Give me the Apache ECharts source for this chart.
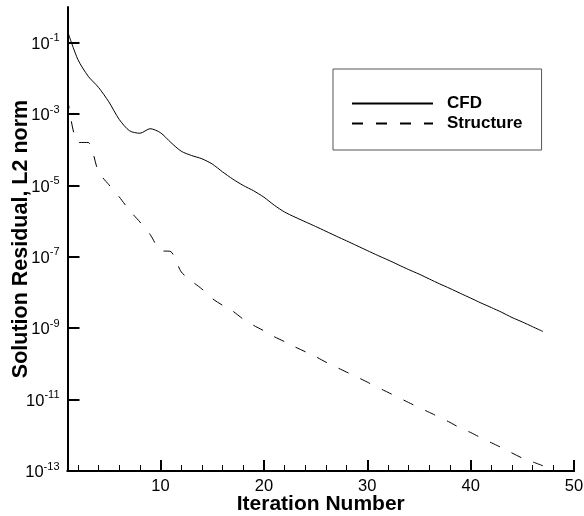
<!DOCTYPE html>
<html>
<head>
<meta charset="utf-8">
<script src="https://cdn.jsdelivr.net/npm/echarts@6/dist/echarts.min.js"></script>
<style>html,body{margin:0;padding:0;background:#fff;}#c{width:584px;height:516px;}</style>
</head>
<body>
<div id="c"></div>
<script>
const iterations = [1,2,3,4,5,6,7,8,9,10,11,12,13,14,15,16,17,18,19,20,21,22,23,24,25,26,27,28,29,30,31,32,33,34,35,36,37,38,39,40,41,42,43,44,45,46,47];
const cfdResidual = [2.1e-1,3.4e-2,1.15e-2,5.6e-3,2.2e-3,7.1e-4,3.4e-4,2.9e-4,3.9e-4,3.0e-4,1.6e-4,9.1e-5,6.9e-5,5.6e-5,4.0e-5,2.4e-5,1.5e-5,1.0e-5,7.1e-6,4.7e-6,2.8e-6,1.8e-6,1.3e-6,9.6e-7,7.1e-7,5.2e-7,3.8e-7,2.8e-7,2.05e-7,1.5e-7,1.1e-7,8.2e-8,6.0e-8,4.4e-8,3.3e-8,2.4e-8,1.75e-8,1.3e-8,9.5e-9,7.0e-9,5.1e-9,3.8e-9,2.8e-9,2.0e-9,1.5e-9,1.1e-9,8.1e-10];
const structureResidual = [2.9e-3,1.6e-4,1.6e-4,2.4e-5,1.05e-5,4.8e-6,2.0e-6,9.5e-7,4.2e-7,1.5e-7,1.4e-7,3.8e-8,2.1e-8,1.26e-8,6.8e-9,4.4e-9,3.0e-9,1.8e-9,1.2e-9,8.5e-10,5.8e-10,4.2e-10,3.0e-10,2.2e-10,1.6e-10,1.12e-10,8.1e-11,5.9e-11,4.3e-11,3.1e-11,2.2e-11,1.6e-11,1.15e-11,8.3e-12,6.0e-12,4.4e-12,3.2e-12,2.3e-12,1.6e-12,1.2e-12,8.5e-13,6.2e-13,4.5e-13,3.2e-13,2.3e-13,1.8e-13,1.4e-13];
const seriesNames = ['CFD', 'Structure'];
const xMajorTicks = [10,20,30,40,50];
const xMinorTicks = [2,4,6,8,12,14,16,18,22,24,26,28,32,34,36,38,42,44,46,48];
const yRange = [1e-13, 1];
const yTickTop = 1e-1;
const xTitle = 'Iteration Number';
const yTitle = 'Solution Residual, L2 norm';

const FONT = 'Liberation Sans, Arial, Helvetica, sans-serif';
const W = 584, H = 516;
const G = { left: 67.5, right: 10, top: 7, bottom: 45 };
const plotH = H - G.top - G.bottom;
const decadePx = plotH / Math.log10(yRange[1] / yRange[0]);
const tickGridTop = G.top + decadePx * Math.log10(yRange[1] / yTickTop);
const pair = (xs, ys) => xs.map((x, i) => [x, ys[i]]);

const chart = echarts.init(document.getElementById('c'));
chart.setOption({
  animation: false,
  backgroundColor: '#fff',
  grid: [
    { left: G.left, right: G.right, top: G.top, bottom: G.bottom, outerBoundsMode: 'none' },
    { left: G.left, right: G.right, top: tickGridTop, bottom: G.bottom, outerBoundsMode: 'none' }
  ],
  legend: {
    orient: 'vertical',
    left: 333, top: 69,
    data: seriesNames,
    itemWidth: 81, itemHeight: 14, itemGap: 3,
    padding: [26, 19, 18, 18],
    borderColor: '#555', borderWidth: 1,
    itemStyle: { opacity: 0 },
    textStyle: { fontFamily: FONT, fontSize: 17, fontWeight: 'bold', color: '#000', padding: [0,0,0,9] }
  },
  xAxis: [{
    gridIndex: 0, type: 'value', min: 1, max: 50,
    name: xTitle, nameLocation: 'middle', nameGap: 23, nameMoveOverlap: false,
    nameTextStyle: { fontFamily: FONT, fontSize: 21, fontWeight: 'bold', color: '#000' },
    axisLine: { show: true, onZero: false, lineStyle: { color: '#000', width: 2 } },
    axisTick: { show: true, inside: true, length: 11, lineStyle: { color: '#000', width: 2 }, customValues: xMajorTicks },
    axisLabel: { fontFamily: FONT, fontSize: 16.5, color: '#000', margin: 7, customValues: xMajorTicks },
    splitLine: { show: false }
  }, {
    gridIndex: 0, type: 'value', min: 1, max: 50, position: 'bottom',
    axisLine: { show: true, onZero: false, lineStyle: { color: '#000', width: 2 } },
    axisTick: { show: true, inside: true, length: 6, lineStyle: { color: '#000', width: 1 }, customValues: xMinorTicks },
    axisLabel: { show: false },
    splitLine: { show: false }
  }, {
    gridIndex: 1, type: 'value', min: 1, max: 50,
    axisLine: { show: false, onZero: false }, axisTick: { show: false }, axisLabel: { show: false }, splitLine: { show: false }
  }],
  yAxis: [{
    gridIndex: 0, type: 'log', logBase: 10, min: yRange[0], max: yRange[1], interval: 2,
    name: yTitle, nameLocation: 'middle', nameGap: 35.5, nameRotate: 90, nameMoveOverlap: false,
    nameTextStyle: { fontFamily: FONT, fontSize: 21.5, fontWeight: 'bold', color: '#000' },
    axisLine: { show: true, onZero: false, lineStyle: { color: '#000', width: 2 } },
    axisTick: { show: false },
    axisLabel: {
      margin: 8,
      formatter: v => {
        const e = Math.round(Math.log10(v));
        return Math.abs(e) % 2 === 1 ? '{b|10}{s|' + e + '}' : '';
      },
      rich: {
        b: { fontFamily: FONT, fontSize: 16.5, color: '#000', lineHeight: 20, verticalAlign: 'bottom' },
        s: { fontFamily: FONT, fontSize: 11, color: '#000', lineHeight: 10, verticalAlign: 'top' }
      }
    },
    splitLine: { show: false }
  }, {
    gridIndex: 1, type: 'log', logBase: 10, min: yRange[0], max: yTickTop, interval: 2, position: 'left',
    axisLine: { show: false, onZero: false },
    axisTick: { show: true, inside: true, length: 12, lineStyle: { color: '#000', width: 2 } },
    axisLabel: { show: false },
    splitLine: { show: false }
  }],
  series: [{
    name: seriesNames[0], type: 'line', xAxisIndex: 0, yAxisIndex: 0, data: pair(iterations, cfdResidual),
    symbol: 'none', smooth: 0.25, lineStyle: { color: '#000', width: 1, type: 'solid' }, itemStyle: { color: '#000' }
  }, {
    name: seriesNames[1], type: 'line', xAxisIndex: 0, yAxisIndex: 0, data: pair(iterations, structureResidual),
    symbol: 'none', smooth: 0.25, lineStyle: { color: '#000', width: 1, type: [11, 13] }, itemStyle: { color: '#000' }
  }]
});
</script>
</body>
</html>
